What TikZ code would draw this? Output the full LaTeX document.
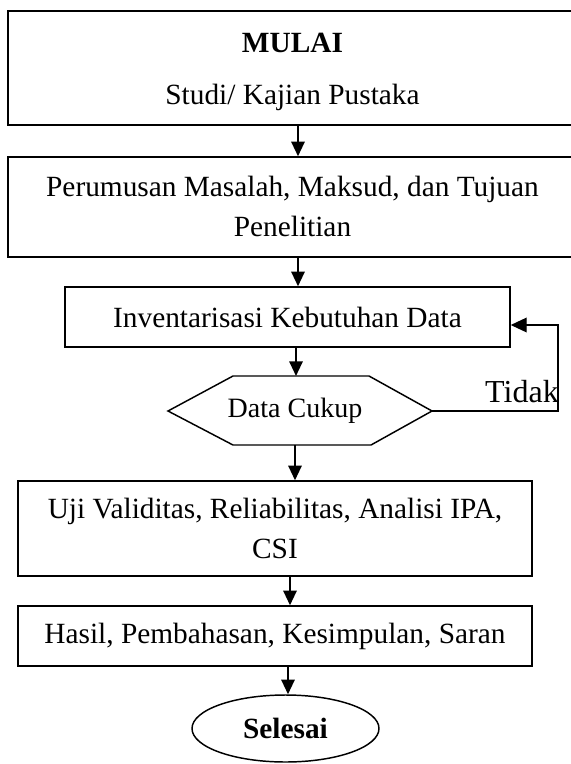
\documentclass[tikz,border=0pt]{standalone}
\usepackage{fontspec}
\setmainfont{Liberation Serif}
\usetikzlibrary{arrows.meta,shapes.geometric}
\begin{document}
\begin{tikzpicture}[x=0.75pt,y=-0.75pt,
  boxst/.style={draw,line width=1.1pt,rectangle,inner sep=0pt,align=center,font=\fontsize{22}{30}\selectfont},
  txt/.style={inner sep=0pt,font=\fontsize{22}{30}\selectfont},
  arr/.style={line width=1.5pt,-{Triangle[length=11pt,width=10pt]}},
  conn/.style={line width=1.1pt,-{Triangle[length=12pt,width=11pt]}}]
\path[use as bounding box] (0,0) rectangle (571,764);
\clip (0,0) rectangle (571,764);
\fill[white] (0,0) rectangle (571,764);
% spine coordinates
\coordinate (sp1) at (298,0);
\coordinate (sp1b) at (296,0);
\coordinate (sp2) at (290,0);
\coordinate (sp3) at (288,0);
% box 1
\node[boxst,minimum width=429pt,minimum height=85.5pt] (b1) at (294,68) {};
\node[txt,font=\bfseries\fontsize{22}{30}\selectfont] (t1a) at (292.5,43) {MULAI};
\node[txt] (t1b) at (292.5,97) {Studi/ Kajian Pustaka};
% box 2
\node[boxst,minimum width=429pt,minimum height=75pt] (b2) at (294,207) {};
\node[txt,align=center] (t2) at (292.5,206) {Perumusan Masalah, Maksud, dan Tujuan\\Penelitian};
% box 3
\node[boxst,minimum width=333.75pt,minimum height=45pt] (b3) at (287.5,317) {Inventarisasi Kebutuhan Data};
% hexagon
\coordinate (hL) at (168,411);
\coordinate (hTL) at (233,376);
\coordinate (hTR) at (369,376);
\coordinate (hR) at (432,411);
\coordinate (hBR) at (371,445);
\coordinate (hBL) at (233,445);
\draw[line width=1.1pt] (hL) -- (hTL) -- (hTR) -- (hR) -- (hBR) -- (hBL) -- cycle;
\node[txt,font=\fontsize{21}{28}\selectfont] (dc) at (295,411) {Data Cukup};
\coordinate (hT) at (296,376);
\coordinate (hB) at (295,445);
% box 4
\node[boxst,minimum width=385.5pt,minimum height=71.25pt] (b4) at (275,528.5) {Uji Validitas, Reliabilitas, Analisi IPA,\\CSI};
% box 5
\node[boxst,minimum width=385.5pt,minimum height=45pt] (b5) at (275,636) {Hasil, Pembahasan, Kesimpulan, Saran};
% end ellipse
\node[draw,line width=1.1pt,ellipse,inner sep=0pt,minimum width=140.25pt,minimum height=50.25pt,font=\bfseries\fontsize{22}{30}\selectfont] (e) at (285.5,728.5) {Selesai};
% arrows
\draw[arr] (b1.south -| sp1) -- (b2.north -| sp1);
\draw[arr] (b2.south -| sp1) -- (b3.north -| sp1);
\draw[arr] (b3.south -| sp1b) -- (hT);
\draw[arr] (hB) -- (b4.north -| hB);
\draw[arr] (b4.south -| sp2) -- (b5.north -| sp2);
\draw[arr] (b5.south -| sp3) -- (e.north -| sp3);
% loop back
\coordinate (lpB) at (558,411);
\coordinate (lpT) at (558,325);
\draw[conn] (hR) -- (lpB) -- (lpT) -- (lpT -| b3.east);
\node[txt,anchor=base east,font=\fontsize{24}{30}\selectfont] (tidak) at (559,402) {Tidak};
\end{tikzpicture}
\end{document}
